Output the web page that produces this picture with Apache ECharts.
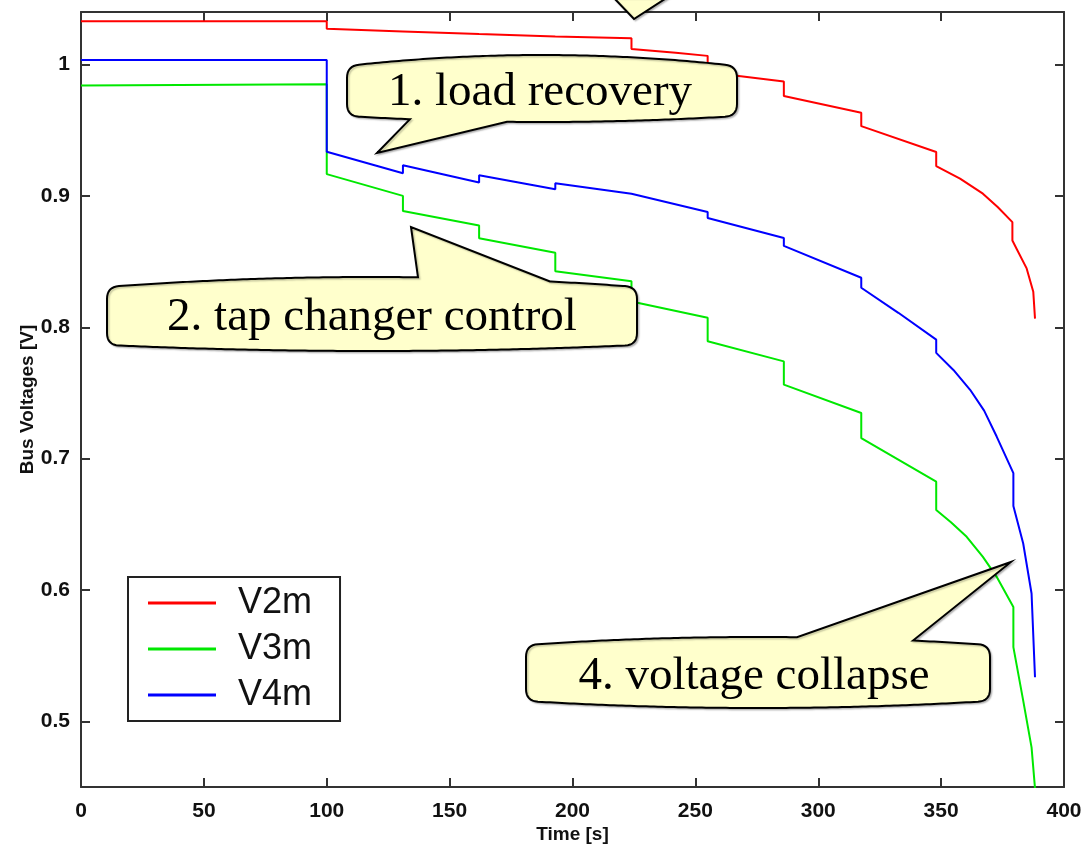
<!DOCTYPE html>
<html>
<head>
<meta charset="utf-8">
<script src="https://cdn.jsdelivr.net/npm/echarts@6/dist/echarts.min.js"></script>
<style>
  html, body { margin: 0; padding: 0; background: #ffffff; }
  #chart { width: 1086px; height: 846px; }
</style>
</head>
<body>
<div id="chart"></div>
<script>
// Bus voltage traces [V] against simulation time [s].
// Repeated time stamps mark the instantaneous tap-changer steps.
const v2mTime = [0, 100, 100, 131, 131, 162, 162, 193, 193, 224, 224, 242, 255, 255, 266, 286, 286,
  317.5, 317.5, 348, 348, 357.7, 367, 373, 379, 379, 380.7, 384.8, 387.5, 388.2];
const v2mVolt = [1.033, 1.033, 1.0272, 1.0252, 1.0245, 1.0232, 1.0226, 1.0214, 1.0209, 1.0201, 1.0119,
  1.0089, 1.0066, 0.9955, 0.9916, 0.9871, 0.976, 0.9633, 0.9531, 0.9334, 0.9227, 0.9131, 0.9017,
  0.8915, 0.880, 0.866, 0.8598, 0.8448, 0.827, 0.8066];

const v3mTime = [0, 100, 100, 131, 131, 162, 162, 193, 193, 224, 224, 255, 255, 286, 286, 317.5, 317.5,
  348, 348, 354, 360.4, 367, 372.6, 379.4, 379.4, 383.4, 386.8, 388.2];
const v3mVolt = [0.984, 0.985, 0.9166, 0.9, 0.8885, 0.8774, 0.8677, 0.8568, 0.8427, 0.8351, 0.8196,
  0.8072, 0.7893, 0.774, 0.7563, 0.7347, 0.7156, 0.6824, 0.6608, 0.6515, 0.6405, 0.6252, 0.61, 0.587,
  0.5565, 0.5158, 0.4802, 0.449];

const v4mTime = [0, 100, 100, 131, 131, 162, 162, 193, 193, 224, 255, 255, 286, 286, 317.5, 317.5,
  332.6, 348, 348, 355, 361.8, 367.5, 372.6, 379.4, 379.4, 383.4, 386.8, 388.2];
const v4mVolt = [1.0035, 1.0035, 0.9336, 0.9173, 0.9234, 0.9102, 0.9158, 0.9051, 0.9097, 0.9017,
  0.8878, 0.8832, 0.868, 0.8619, 0.8377, 0.8301, 0.811, 0.7906, 0.7805, 0.7675, 0.7524, 0.7365,
  0.7168, 0.6889, 0.664, 0.6354, 0.5973, 0.5336];

const seriesNames = ['V2m', 'V3m', 'V4m'];
const xTicks = [0, 50, 100, 150, 200, 250, 300, 350, 400];
const yTicks = [0.5, 0.6, 0.7, 0.8, 0.9, 1.0];
const calloutTexts = ['1. load recovery', '2. tap changer control', '4. voltage collapse'];

const zip = (ts, vs) => ts.map((t, i) => [t, vs[i]]);

const SANS = '"Liberation Sans", Arial, Helvetica, sans-serif';
const SERIF = '"Liberation Serif", "Times New Roman", serif';
const FRAME = '#333333';

// Speech-bubble outline as a point list: straight sides, gently bowed
// top/bottom edges, rounded corners and a pointed tail in one edge.
function bubblePoints(b) {
  const { x0, x1, yt, ytm, yb, ybm, r, tail } = b;
  const k = x => 1 - Math.pow((2 * x - x0 - x1) / (x1 - x0), 2);
  const topY = x => yt - (yt - ytm) * k(x);
  const botY = x => yb + (ybm - yb) * k(x);
  const pts = [];
  const corner = (p0, c, p1) => {
    for (let i = 0; i <= 8; i++) {
      const t = i / 8, u = 1 - t;
      pts.push([u * u * p0[0] + 2 * u * t * c[0] + t * t * p1[0],
                u * u * p0[1] + 2 * u * t * c[1] + t * t * p1[1]]);
    }
  };
  const step = 4;
  corner([x0, yt + r], [x0, yt], [x0 + r, topY(x0 + r)]);
  let skipping = false;
  for (let x = x0 + r + step; x < x1 - r; x += step) {
    if (tail && tail.edge === 'top') {
      if (!skipping && x >= tail.b0) {
        pts.push([tail.b0, topY(tail.b0)], [tail.tx, tail.ty], [tail.b1, topY(tail.b1)]);
        skipping = true;
      }
      if (skipping && x <= tail.b1) continue;
    }
    pts.push([x, topY(x)]);
  }
  corner([x1 - r, topY(x1 - r)], [x1, yt], [x1, yt + r]);
  corner([x1, yb - r], [x1, yb], [x1 - r, botY(x1 - r)]);
  skipping = false;
  for (let x = x1 - r - step; x > x0 + r; x -= step) {
    if (tail && tail.edge === 'bottom') {
      if (!skipping && x <= tail.b1) {
        pts.push([tail.b1, botY(tail.b1)], [tail.tx, tail.ty], [tail.b0, botY(tail.b0)]);
        skipping = true;
      }
      if (skipping && x >= tail.b0) continue;
    }
    pts.push([x, botY(x)]);
  }
  corner([x0 + r, botY(x0 + r)], [x0, yb], [x0, yb - r]);
  return pts;
}

const bubbleStyle = {
  fill: '#ffffcc',
  stroke: '#000000',
  lineWidth: 2,
  shadowColor: 'rgba(0,0,0,0.22)',
  shadowOffsetX: 1.5,
  shadowOffsetY: 1.5,
  shadowBlur: 1.5
};

const bubbles = [
  { x0: 347, x1: 737, yt: 66, ytm: 55, yb: 116, ybm: 122, r: 12,
    tail: { edge: 'bottom', b0: 410, b1: 507, tx: 377, ty: 153 } },
  { x0: 107, x1: 637, yt: 287, ytm: 277, yb: 345, ybm: 351, r: 12,
    tail: { edge: 'top', b0: 418, b1: 550, tx: 411, ty: 227 } },
  { x0: 526, x1: 990, yt: 645, ytm: 637, yb: 701, ybm: 708, r: 12,
    tail: { edge: 'top', b0: 797, b1: 913, tx: 1011, ty: 562 } }
];
const bubbleTextPos = [[540, 93], [372, 318], [754, 677]];

const graphics = [];
bubbles.forEach((b, i) => {
  graphics.push({
    type: 'polygon', z: 100,
    shape: { points: bubblePoints(b) },
    style: bubbleStyle
  });
  graphics.push({
    type: 'text', z: 101,
    x: bubbleTextPos[i][0], y: bubbleTextPos[i][1],
    style: {
      text: calloutTexts[i],
      font: '47px ' + SERIF,
      fill: '#000000',
      align: 'center',
      verticalAlign: 'middle'
    }
  });
});
// tail of the bubble above the plot (its body lies outside the canvas)
graphics.push({
  type: 'polygon', z: 100,
  shape: { points: [[613, -3], [634, 19], [668, -3]] },
  style: bubbleStyle
});

const colors = ['#ff0000', '#00e800', '#0000ff'];
const seriesData = [zip(v2mTime, v2mVolt), zip(v3mTime, v3mVolt), zip(v4mTime, v4mVolt)];

const axisLineStyle = { show: true, onZero: false, lineStyle: { color: FRAME, width: 2 } };
const tickStyle = { inside: true, length: 9, lineStyle: { color: FRAME, width: 2 } };
const labelFont = { fontFamily: SANS, fontSize: 21, fontWeight: 'bold', color: '#111111' };

const option = {
  animation: false,
  backgroundColor: '#ffffff',
  grid: { left: 81, right: 22, top: 12, bottom: 59, containLabel: false, outerBoundsMode: 'none' },
  xAxis: [
    {
      type: 'value', position: 'bottom', min: 0, max: 400, interval: 50,
      axisLine: axisLineStyle,
      axisTick: tickStyle,
      axisLabel: Object.assign({}, labelFont, { margin: 14 }),
      splitLine: { show: false },
      name: 'Time [s]', nameLocation: 'middle', nameGap: 38, nameMoveOverlap: false,
      nameTextStyle: { fontFamily: SANS, fontSize: 19, fontWeight: 'bold', color: '#111111' }
    },
    {
      type: 'value', position: 'top', min: 0, max: 400, interval: 50,
      axisLine: axisLineStyle,
      axisTick: tickStyle,
      axisLabel: { show: false },
      splitLine: { show: false }
    }
  ],
  yAxis: [
    {
      type: 'value', position: 'left', min: 0.45, max: 1.04,
      axisLine: axisLineStyle,
      axisTick: Object.assign({}, tickStyle, { customValues: yTicks }),
      axisLabel: Object.assign({}, labelFont, {
        margin: 11, customValues: yTicks,
        formatter: v => String(Number(Number(v).toFixed(2)))
      }),
      splitLine: { show: false },
      name: 'Bus Voltages [V]', nameLocation: 'middle', nameRotate: 90, nameGap: 44,
      nameMoveOverlap: false,
      nameTextStyle: { fontFamily: SANS, fontSize: 19, fontWeight: 'bold', color: '#111111' }
    },
    {
      type: 'value', position: 'right', min: 0.45, max: 1.04,
      axisLine: axisLineStyle,
      axisTick: Object.assign({}, tickStyle, { customValues: yTicks }),
      axisLabel: { show: false, customValues: yTicks },
      splitLine: { show: false }
    }
  ],
  legend: {
    orient: 'vertical',
    left: 128, top: 577,
    padding: [6, 28, 6, 20],
    itemGap: 6,
    itemWidth: 68, itemHeight: 3,
    icon: 'rect',
    backgroundColor: '#ffffff',
    borderColor: '#222222', borderWidth: 2, borderRadius: 0,
    data: seriesNames,
    textStyle: { fontFamily: SANS, fontSize: 36, color: '#111111', lineHeight: 40, padding: [0, 0, 0, 17] }
  },
  series: seriesNames.map((name, i) => ({
    name, type: 'line', data: seriesData[i],
    xAxisIndex: 0, yAxisIndex: 0,
    showSymbol: false, symbol: 'none',
    color: colors[i],
    lineStyle: { width: 2, color: colors[i] },
    clip: true
  })),
  graphic: graphics
};

const chart = echarts.init(document.getElementById('chart'), null, { renderer: 'canvas' });
chart.setOption(option);
</script>
</body>
</html>
